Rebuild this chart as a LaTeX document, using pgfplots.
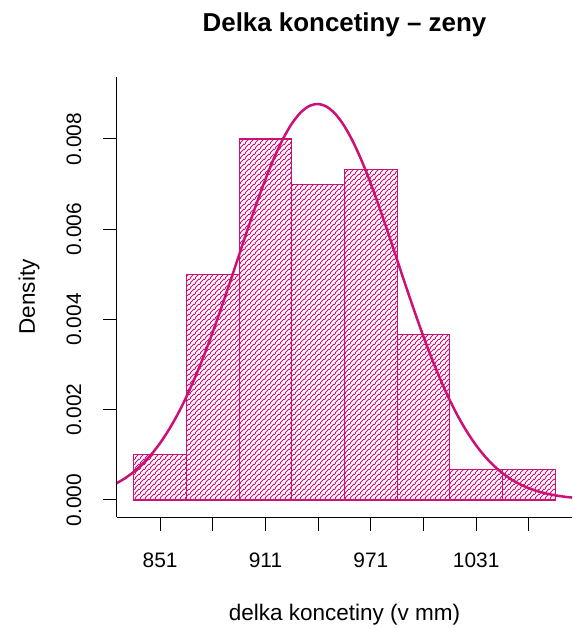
\documentclass[border=0pt]{standalone}
\usepackage{pgfplots}
\pgfplotsset{compat=1.18}
\usepackage{fontspec}
\setmainfont{Liberation Sans}
\usetikzlibrary{patterns.meta}
\definecolor{rpink}{RGB}{205,16,118}
\tikzdeclarepattern{
  name=pinkhatch,
  type=colored,
  bottom left={(0bp,0bp)},
  top right={(5bp,5bp)},
  tile size={(5bp,5bp)},
  code={
    \draw[rpink, line width=0.9bp] (-1bp,-1bp) -- (6bp,6bp);
    \draw[rpink, line width=0.9bp] (-1bp,4bp) -- (1bp,6bp);
    \draw[rpink, line width=0.9bp] (4bp,-1bp) -- (6bp,1bp);
  }
}
\begin{document}
\begin{tikzpicture}
\path[use as bounding box] (-117bp,-111bp) rectangle (456bp,517bp);
\begin{axis}[
  scale only axis, width=455bp, height=440bp,
  xmin=826.4, xmax=1085.6, ymin=-0.000377, ymax=0.009374,
  axis x line*=bottom, axis y line*=left,
  axis line style={-, line width=1bp, black},
  tick align=outside, major tick length=13.5bp,
  tick style={black, line width=1bp},
  minor tick num=0,
  xtick={851,881,911,941,971,1001,1031,1061},
  xticklabels={851,,911,,971,,1031,},
  ytick={0,0.002,0.004,0.006,0.008},
  scaled y ticks=false,
  /pgf/number format/assume math mode=true,
  yticklabel style={/pgf/number format/fixed, /pgf/number format/fixed zerofill, /pgf/number format/precision=3, rotate=90, anchor=south},
  ticklabel style={font=\fontsize{21}{24}\selectfont, inner sep=0pt},
  xticklabel style={anchor=north},
  xticklabel shift=22bp, yticklabel shift=22bp,
  title={Delka koncetiny -- zeny},
  title style={at={(axis description cs:0.5,1)}, anchor=base, yshift=40bp, font=\bfseries\fontsize{26}{30}\selectfont, inner sep=0pt},
  xlabel={delka koncetiny (v mm)},
  xlabel style={at={(axis description cs:0.5,0)}, anchor=base, yshift=-103bp, font=\fontsize{22.6}{26}\selectfont, inner sep=0pt},
  ylabel={Density},
  ylabel style={at={(axis description cs:-0.1934,0.5)}, anchor=center, font=\fontsize{22.6}{26}\selectfont, inner sep=0pt},
]
\addplot[ybar interval, draw=rpink, line width=1.1bp, pattern=pinkhatch]
  coordinates {(836,0.001) (866,0.005) (896,0.008) (926,0.007) (956,0.007333) (986,0.003667) (1016,0.000667) (1046,0.000667) (1076,0.000667)};
\addplot[rpink, line width=2.5bp, smooth] coordinates {
(826,0.000368) (831,0.000482) (836,0.000625) (841,0.000800) (846,0.001012)
(851,0.001263) (856,0.001560) (861,0.001902) (866,0.002292) (871,0.002728)
(876,0.003207) (881,0.003727) (886,0.004278) (891,0.004851) (896,0.005436)
(901,0.006017) (906,0.006580) (911,0.007110) (916,0.007590) (921,0.008005)
(926,0.008341) (931,0.008586) (936,0.008733) (941,0.008775) (946,0.008712)
(951,0.008545) (956,0.008280) (961,0.007928) (966,0.007498) (971,0.007007)
(976,0.006469) (981,0.005902) (986,0.005318) (991,0.004735) (996,0.004165)
(1001,0.003620) (1006,0.003108) (1011,0.002637) (1016,0.002210) (1021,0.001830)
(1026,0.001497) (1031,0.001210) (1036,0.000966) (1041,0.000762) (1046,0.000594)
(1051,0.000457) (1056,0.000348) (1061,0.000262) (1066,0.000194) (1071,0.000143)
(1076,0.000103) (1081,0.0000740) (1086,0.0000523)};
\end{axis}
\end{tikzpicture}
\end{document}
